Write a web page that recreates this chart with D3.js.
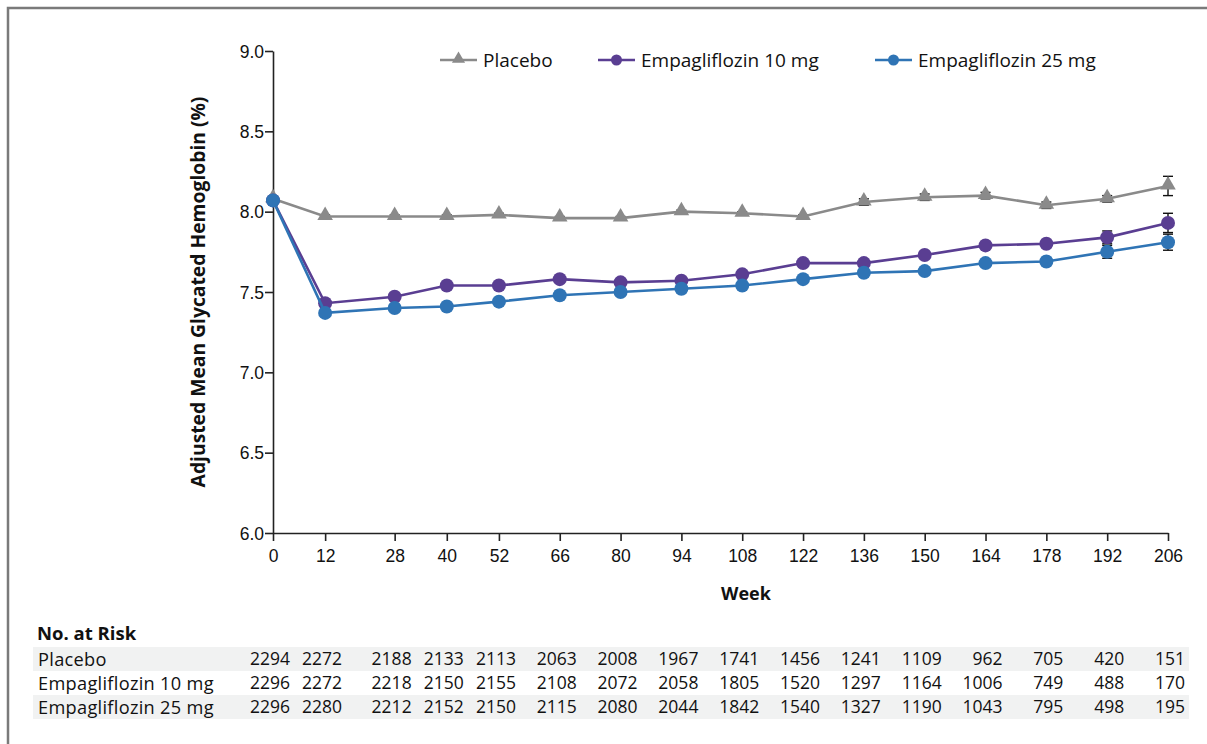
<!DOCTYPE html>
<html>
<head>
<meta charset="utf-8">
<script src="https://cdn.jsdelivr.net/npm/d3@7"></script>
<style>
  body { margin: 0; background: #fff; }
  svg { font-family: "Open Sans", "Noto Sans", sans-serif; }
</style>
</head>
<body>
<div id="chart"></div>
<script>
// weeks on the x axis
var weeks = [0, 12, 28, 40, 52, 66, 80, 94, 108, 122, 136, 150, 164, 178, 192, 206];
var yTicks = [6.0, 6.5, 7.0, 7.5, 8.0, 8.5, 9.0];

// adjusted mean glycated hemoglobin (%)
var placebo = [8.08, 7.97, 7.97, 7.97, 7.98, 7.96, 7.96, 8.00, 7.99, 7.97, 8.06, 8.09, 8.10, 8.04, 8.08, 8.16];
var empa10 = [8.07, 7.43, 7.47, 7.54, 7.54, 7.58, 7.56, 7.57, 7.61, 7.68, 7.68, 7.73, 7.79, 7.80, 7.84, 7.93];
var empa25 = [8.07, 7.37, 7.40, 7.41, 7.44, 7.48, 7.50, 7.52, 7.54, 7.58, 7.62, 7.63, 7.68, 7.69, 7.75, 7.81];

// half width of error bars (mostly hidden under markers)
var placeboErr = [0.01, 0.01, 0.01, 0.01, 0.01, 0.01, 0.01, 0.01, 0.01, 0.01, 0.02, 0.02, 0.02, 0.02, 0.02, 0.06];
var empa10Err = [0.01, 0.01, 0.01, 0.01, 0.01, 0.01, 0.01, 0.01, 0.01, 0.01, 0.02, 0.02, 0.02, 0.02, 0.04, 0.06];
var empa25Err = [0.01, 0.01, 0.01, 0.01, 0.01, 0.01, 0.01, 0.01, 0.01, 0.01, 0.02, 0.02, 0.02, 0.02, 0.04, 0.05];

// number at risk
var riskLabels = ["Placebo", "Empagliflozin 10 mg", "Empagliflozin 25 mg"];
var riskPlacebo = [2294, 2272, 2188, 2133, 2113, 2063, 2008, 1967, 1741, 1456, 1241, 1109, 962, 705, 420, 151];
var riskEmpa10 = [2296, 2272, 2218, 2150, 2155, 2108, 2072, 2058, 1805, 1520, 1297, 1164, 1006, 749, 488, 170];
var riskEmpa25 = [2296, 2280, 2212, 2152, 2150, 2115, 2080, 2044, 1842, 1540, 1327, 1190, 1043, 795, 498, 195];

var series = [
  { name: "Placebo", values: placebo, err: placeboErr, color: "#8a8a8a", shape: "triangle" },
  { name: "Empagliflozin 10 mg", values: empa10, err: empa10Err, color: "#5a3e92", shape: "circle" },
  { name: "Empagliflozin 25 mg", values: empa25, err: empa25Err, color: "#2f74b5", shape: "circle" }
];
var risk = [riskPlacebo, riskEmpa10, riskEmpa25];

var W = 1207, H = 744;
var svg = d3.select("#chart").append("svg")
  .attr("width", W)
  .attr("height", H);

// outer frame (top and left edges)
svg.append("path")
  .attr("d", "M8," + H + "V8H" + W)
  .attr("fill", "none")
  .attr("stroke", "#7a7a7a")
  .attr("stroke-width", 2.5);

var x = d3.scaleLinear().domain([0, 206]).range([273, 1168]);
var y = d3.scaleLinear().domain([6, 9]).range([533, 51]);

// axes
var xAxis = svg.append("g")
  .attr("transform", "translate(0," + y(6) + ")")
  .call(d3.axisBottom(x).tickValues(weeks).tickSize(8).tickSizeOuter(0).tickFormat(d3.format("d")));
var yAxis = svg.append("g")
  .attr("transform", "translate(" + x(0) + ",0)")
  .call(d3.axisLeft(y).tickValues(yTicks).tickSize(8).tickSizeOuter(0).tickFormat(d3.format(".1f")));

[xAxis, yAxis].forEach(function(a) {
  a.select(".domain").attr("stroke", "#222").attr("stroke-width", 1.6);
  a.selectAll(".tick line").attr("stroke", "#222").attr("stroke-width", 1.6);
  a.selectAll(".tick text").attr("fill", "#111").style("font-size", "17.5px");
});
xAxis.selectAll(".tick text").attr("dy", "1.0em");
yAxis.selectAll(".tick text").attr("x", -9).attr("dy", "0.36em");

// axis titles
svg.append("text")
  .attr("transform", "translate(205,292) rotate(-90)")
  .attr("text-anchor", "middle")
  .style("font-size", "19.3px")
  .style("font-weight", "bold")
  .attr("fill", "#111")
  .text("Adjusted Mean Glycated Hemoglobin  (%)");

svg.append("text")
  .attr("x", 746)
  .attr("y", 600)
  .attr("text-anchor", "middle")
  .style("font-size", "18px")
  .style("font-weight", "bold")
  .attr("fill", "#111")
  .text("Week");

var line = d3.line()
  .x(function(d, i) { return x(weeks[i]); })
  .y(function(d) { return y(d); });

var triangle = d3.symbol().type(d3.symbolTriangle).size(105);

function drawMarker(g, s, cx, cy) {
  if (s.shape == "triangle") {
    g.append("path")
      .attr("d", triangle())
      .attr("transform", "translate(" + cx + "," + (cy - 1) + ")")
      .attr("fill", s.color);
  } else {
    g.append("circle")
      .attr("cx", cx)
      .attr("cy", cy)
      .attr("r", 7)
      .attr("fill", s.color);
  }
}

// error bars, lines and markers
series.forEach(function(s) {
  var g = svg.append("g");
  s.values.forEach(function(v, i) {
    var cx = x(weeks[i]);
    var y1 = y(v + s.err[i]), y2 = y(v - s.err[i]);
    g.append("line").attr("x1", cx).attr("x2", cx).attr("y1", y1).attr("y2", y2)
      .attr("stroke", "#111").attr("stroke-width", 1.4);
    [y1, y2].forEach(function(yy) {
      g.append("line").attr("x1", cx - 5).attr("x2", cx + 5).attr("y1", yy).attr("y2", yy)
        .attr("stroke", "#111").attr("stroke-width", 1.4);
    });
  });
  g.append("path")
    .datum(s.values)
    .attr("d", line)
    .attr("fill", "none")
    .attr("stroke", s.color)
    .attr("stroke-width", 2.6);
  s.values.forEach(function(v, i) {
    drawMarker(g, s, x(weeks[i]), y(v));
  });
});

// legend
var legendX = [440, 598, 875];
series.forEach(function(s, i) {
  var g = svg.append("g").attr("transform", "translate(" + legendX[i] + ",60)");
  g.append("line").attr("x1", 0).attr("x2", 37).attr("y1", 0).attr("y2", 0)
    .attr("stroke", s.color).attr("stroke-width", 2.6);
  if (s.shape == "triangle") {
    g.append("path").attr("d", d3.symbol().type(d3.symbolTriangle).size(75)())
      .attr("transform", "translate(18.5,-1)").attr("fill", s.color);
  } else {
    g.append("circle").attr("cx", 18.5).attr("cy", 0).attr("r", 5.5).attr("fill", s.color);
  }
  g.append("text")
    .attr("x", 43)
    .attr("y", 0)
    .attr("dy", "0.35em")
    .style("font-size", "19px")
    .attr("fill", "#111")
    .text(s.name);
});

// number at risk table
svg.append("text")
  .attr("x", 37)
  .attr("y", 640)
  .style("font-size", "18.5px")
  .style("font-weight", "bold")
  .attr("fill", "#111")
  .text("No. at Risk");

var rowY = [659, 683, 707];
riskLabels.forEach(function(lab, r) {
  if (r != 1) {
    svg.append("rect")
      .attr("x", 33).attr("y", rowY[r] - 12)
      .attr("width", 1156).attr("height", 24)
      .attr("fill", "#f1f2f2");
  }
  svg.append("text")
    .attr("x", 38)
    .attr("y", rowY[r])
    .attr("dy", "0.36em")
    .style("font-size", "18.2px")
    .style("letter-spacing", "0.3px")
    .attr("fill", "#111")
    .text(lab);
  svg.append("g").selectAll("text")
    .data(risk[r])
    .enter().append("text")
    .attr("x", function(d, i) { return x(weeks[i]) + 17; })
    .attr("y", rowY[r])
    .attr("dy", "0.36em")
    .attr("text-anchor", "end")
    .style("font-size", "17.5px")
    .attr("fill", "#111")
    .text(function(d) { return d; });
});
</script>
</body>
</html>
